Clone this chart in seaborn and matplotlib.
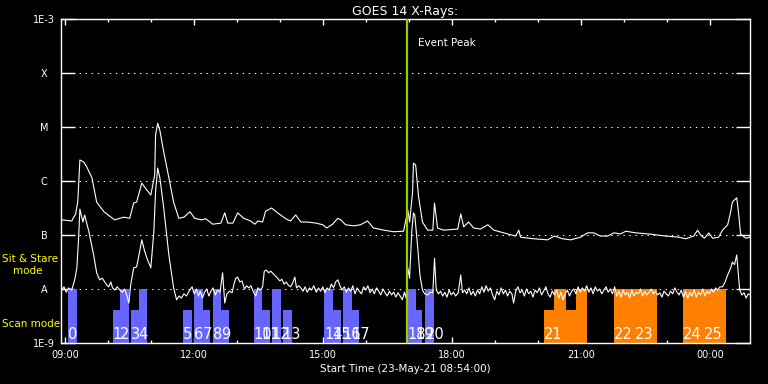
import matplotlib
matplotlib.use("Agg")
import matplotlib.pyplot as plt
import matplotlib.dates as mdates
import matplotlib.ticker as mticker
import numpy as np
import pandas as pd
import seaborn as sns

day = pd.Timestamp("2021-05-23")

# GOES long channel (1-8 A), hours UT, log10 flux
long_h = [8.92, 9.15, 9.24, 9.29, 9.34, 9.43, 9.50, 9.62, 9.73, 9.90, 10.03, 10.15, 10.36, 10.50,
          10.59, 10.66, 10.78, 10.90, 10.99, 11.08, 11.10, 11.15, 11.20, 11.29, 11.41, 11.52, 11.64,
          11.76, 11.90, 12.01, 12.17, 12.27, 12.43, 12.62, 12.71, 12.78, 12.90, 13.01, 13.15, 13.31,
          13.41, 13.48, 13.59, 13.66, 13.80, 13.94, 14.13, 14.24, 14.36, 14.48, 14.64, 14.83, 14.99,
          15.08, 15.22, 15.34, 15.41, 15.52, 15.71, 15.87, 16.03, 16.17, 16.41, 16.64, 16.87, 16.97,
          17.01, 17.08, 17.10, 17.15, 17.22, 17.31, 17.43, 17.55, 17.59, 17.66, 17.80, 18.13, 18.20,
          18.27, 18.38, 18.50, 18.66, 18.83, 18.97, 19.20, 19.48, 19.55, 19.59, 19.90, 20.22, 20.38,
          20.57, 20.76, 20.99, 21.15, 21.29, 21.45, 21.62, 21.76, 21.92, 22.04, 22.27, 22.57, 22.97,
          23.27, 23.43, 23.62, 23.71, 23.78, 23.87, 23.97, 24.06, 24.20, 24.29, 24.41, 24.48, 24.52,
          24.62, 24.66, 24.71, 24.83, 24.94]
long_logf = [-6.72, -6.74, -6.61, -6.39, -5.61, -5.65, -5.74, -5.94, -6.39, -6.57, -6.65, -6.72, -6.67, -6.69,
             -6.41, -6.39, -6.04, -6.17, -6.26, -5.89, -5.15, -4.93, -5.06, -5.46, -5.94, -6.39, -6.69,
             -6.67, -6.57, -6.69, -6.72, -6.70, -6.80, -6.78, -6.59, -6.78, -6.78, -6.59, -6.69, -6.74,
             -6.80, -6.74, -6.76, -6.56, -6.50, -6.59, -6.70, -6.74, -6.63, -6.76, -6.76, -6.78, -6.81,
             -6.87, -6.80, -6.69, -6.72, -6.81, -6.83, -6.81, -6.74, -6.87, -6.91, -6.94, -6.93, -6.54,
             -6.76, -6.20, -5.67, -5.70, -6.30, -6.76, -6.91, -6.91, -6.41, -6.87, -6.91, -6.89, -6.61,
             -6.85, -6.76, -6.87, -6.89, -6.81, -6.91, -6.96, -7.02, -6.91, -7.04, -7.07, -7.09, -7.02,
             -7.07, -7.09, -7.04, -6.96, -6.96, -7.02, -7.02, -6.96, -6.98, -6.93, -6.96, -6.98, -7.02,
             -7.04, -7.07, -7.02, -6.91, -7.00, -7.06, -6.96, -7.06, -7.04, -6.91, -6.81, -6.57, -6.39,
             -6.31, -6.57, -6.98, -7.06, -7.04]

# GOES short channel (0.5-4 A)
short_h = [8.92, 8.97, 9.02, 9.08, 9.15, 9.22, 9.27, 9.31, 9.34, 9.41, 9.45, 9.55, 9.66, 9.73, 9.80,
           9.86, 9.92, 9.97, 10.01, 10.06, 10.10, 10.15, 10.21, 10.27, 10.33, 10.38, 10.43, 10.48,
           10.52, 10.59, 10.66, 10.72, 10.78, 10.84, 10.90, 10.99, 11.06, 11.10, 11.15, 11.20, 11.29,
           11.41, 11.52, 11.59, 11.65, 11.70, 11.76, 11.82, 11.88, 11.95, 12.00, 12.05, 12.10, 12.14,
           12.19, 12.24, 12.29, 12.34, 12.39, 12.44, 12.49, 12.54, 12.60, 12.66, 12.71, 12.76, 12.82,
           12.88, 12.93, 12.97, 13.01, 13.06, 13.11, 13.17, 13.22, 13.27, 13.32, 13.38, 13.43, 13.48,
           13.54, 13.59, 13.63, 13.68, 13.73, 13.78, 13.84, 13.89, 13.94, 13.99, 14.04, 14.09, 14.14,
           14.19, 14.24, 14.29, 14.34, 14.38, 14.43, 14.48, 14.53, 14.58, 14.63, 14.68, 14.73, 14.78,
           14.84, 14.89, 14.94, 14.99, 15.04, 15.09, 15.14, 15.19, 15.24, 15.29, 15.34, 15.39, 15.44,
           15.49, 15.54, 15.59, 15.64, 15.69, 15.74, 15.79, 15.84, 15.89, 15.94, 15.99, 16.04, 16.09,
           16.14, 16.19, 16.24, 16.29, 16.34, 16.39, 16.44, 16.49, 16.54, 16.59, 16.64, 16.69, 16.74,
           16.79, 16.84, 16.89, 16.93, 16.97, 17.01, 17.06, 17.10, 17.13, 17.20, 17.25, 17.31, 17.36,
           17.43, 17.49, 17.55, 17.59, 17.63, 17.68, 17.73, 17.78, 17.83, 17.88, 17.93, 17.98, 18.03,
           18.08, 18.14, 18.20, 18.24, 18.29, 18.34, 18.39, 18.44, 18.49, 18.54, 18.59, 18.64, 18.69,
           18.74, 18.79, 18.84, 18.89, 18.94, 18.99, 19.04, 19.09, 19.14, 19.19, 19.24, 19.29, 19.34,
           19.39, 19.43, 19.48, 19.53, 19.58, 19.63, 19.68, 19.73, 19.78, 19.83, 19.88, 19.93, 19.98,
           20.03, 20.08, 20.13, 20.18, 20.23, 20.28, 20.33, 20.38, 20.43, 20.48, 20.53, 20.58, 20.63,
           20.68, 20.73, 20.78, 20.83, 20.88, 20.93, 20.98, 21.03, 21.08, 21.13, 21.18, 21.23, 21.28,
           21.33, 21.38, 21.43, 21.48, 21.53, 21.58, 21.63, 21.68, 21.73, 21.78, 21.83, 21.88, 21.93,
           21.98, 22.03, 22.08, 22.13, 22.18, 22.23, 22.28, 22.33, 22.38, 22.43, 22.48, 22.53, 22.58,
           22.63, 22.68, 22.73, 22.78, 22.83, 22.88, 22.93, 22.98, 23.03, 23.08, 23.13, 23.18, 23.23,
           23.28, 23.33, 23.38, 23.43, 23.48, 23.53, 23.58, 23.63, 23.68, 23.73, 23.78, 23.83, 23.88,
           23.93, 23.98, 24.03, 24.08, 24.13, 24.18, 24.23, 24.29, 24.35, 24.41, 24.48, 24.52, 24.57,
           24.62, 24.66, 24.69, 24.74, 24.79, 24.84, 24.89, 24.94]
short_logf = [-8.02, -7.96, -8.06, -7.98, -8.02, -7.83, -7.61, -7.06, -6.52, -6.76, -6.63, -6.94, -7.37, -7.70, -7.83,
              -7.80, -7.87, -7.93, -7.96, -7.87, -7.98, -8.02, -7.96, -8.02, -8.06, -8.00, -8.11, -8.26,
              -7.93, -7.61, -7.59, -7.35, -7.09, -7.28, -7.43, -7.61, -6.94, -6.20, -5.76, -5.94, -6.50,
              -7.37, -7.98, -8.20, -8.13, -8.17, -8.09, -8.13, -8.04, -7.96, -8.09, -8.00, -8.13, -8.04,
              -8.17, -8.06, -8.00, -8.13, -8.04, -7.98, -8.11, -8.02, -8.06, -7.70, -8.26, -8.09, -8.04,
              -8.07, -7.89, -7.80, -7.78, -7.87, -7.85, -8.00, -7.94, -7.98, -7.94, -8.06, -8.13, -7.98,
              -8.02, -7.96, -7.67, -7.65, -7.70, -7.67, -7.72, -7.76, -7.80, -7.85, -7.82, -7.91, -7.87,
              -7.93, -7.96, -7.89, -7.78, -7.98, -7.94, -7.98, -8.04, -7.96, -8.06, -7.98, -8.02, -7.94,
              -8.06, -7.98, -8.04, -7.96, -8.07, -7.98, -8.02, -7.91, -7.98, -7.87, -7.83, -7.94, -8.02,
              -7.96, -8.06, -7.98, -8.04, -7.94, -8.09, -7.98, -8.04, -8.09, -7.96, -8.02, -7.94, -8.07,
              -8.00, -8.09, -7.98, -8.04, -8.11, -8.00, -8.07, -8.13, -8.04, -8.11, -8.06, -8.15, -8.07,
              -8.13, -8.20, -8.06, -8.17, -7.61, -7.80, -6.94, -6.59, -6.63, -7.24, -7.74, -8.02, -8.09,
              -8.11, -8.06, -8.07, -7.43, -8.02, -8.09, -8.04, -8.13, -8.06, -8.15, -8.02, -8.11, -8.06,
              -8.13, -8.07, -7.74, -8.07, -8.02, -8.09, -7.98, -8.11, -8.04, -8.13, -8.02, -8.09, -7.96,
              -8.06, -7.94, -8.04, -7.98, -8.11, -8.20, -8.04, -8.11, -7.98, -8.09, -8.02, -8.13, -8.04,
              -8.09, -8.26, -8.04, -7.96, -8.07, -8.02, -8.13, -8.00, -8.09, -8.04, -8.15, -8.02, -8.07,
              -7.98, -8.11, -8.04, -7.96, -8.09, -8.15, -8.04, -8.11, -8.02, -8.17, -8.06, -8.20, -8.09,
              -8.02, -8.13, -8.04, -8.00, -8.09, -7.96, -8.06, -7.98, -8.04, -7.94, -8.06, -7.98, -8.09,
              -7.96, -8.04, -8.00, -8.09, -8.02, -7.96, -8.06, -8.00, -8.09, -7.96, -8.13, -8.04, -8.15,
              -8.02, -8.11, -8.06, -8.17, -8.02, -8.13, -8.06, -8.09, -8.00, -8.13, -8.04, -8.11, -8.06,
              -8.00, -8.09, -8.04, -8.11, -8.07, -8.15, -8.04, -8.09, -8.13, -8.04, -8.09, -7.98, -8.06,
              -8.11, -8.02, -8.15, -8.04, -8.17, -8.06, -8.13, -8.02, -8.15, -8.06, -8.11, -8.00, -8.13,
              -8.04, -8.09, -8.00, -8.06, -7.98, -8.02, -7.96, -7.96, -7.87, -7.74, -7.61, -7.50, -7.55,
              -7.37, -7.74, -8.02, -8.11, -8.07, -8.17, -8.09, -8.11]

# observation intervals (hours UT)
blue_start = [9.06, 10.10, 10.27, 10.52, 10.71, 11.73, 11.99, 12.20, 12.43, 12.62, 13.38,
              13.57, 13.80, 14.06, 15.03, 15.22, 15.45, 15.66, 16.97, 17.15, 17.38]
blue_end = [9.27, 10.27, 10.48, 10.71, 10.90, 11.94, 12.20, 12.36, 12.62, 12.80, 13.57,
            13.76, 14.01, 14.27, 15.22, 15.41, 15.66, 15.83, 17.15, 17.31, 17.57]
blue_mode = ["stare", "scan"] * 10 + ["stare"]
blue_label = [str(i) for i in range(21)]

orange_start = [20.13, 20.36, 20.64, 20.87, 21.76, 23.36]
orange_end = [20.36, 20.64, 20.87, 21.13, 22.76, 24.36]
orange_mode = ["scan", "stare", "scan", "stare", "stare", "stare"]
orange_label_h = [20.13, 21.76, 22.25, 23.36, 23.85]
orange_label = ["21", "22", "23", "24", "25"]

event_h = 16.94
mode_top = {"stare": 1e-8, "scan": 4e-9}
floor = 1e-9

ytick_vals = [1e-9, 1e-8, 1e-7, 1e-6, 1e-5, 1e-4, 1e-3]
ytick_text = ["1E-9", "A", "B", "C", "M", "X", "1E-3"]


def to_dt(h):
    return day + pd.to_timedelta(np.asarray(h), unit="h")


sns.set_style("dark", {"axes.facecolor": "black", "figure.facecolor": "black",
                       "axes.edgecolor": "white", "text.color": "white",
                       "xtick.color": "white", "ytick.color": "white",
                       "axes.labelcolor": "white", "axes.grid": False})
plt.rcParams["font.family"] = ["DejaVu Sans"]

fig = plt.figure(figsize=(7.68, 3.84), dpi=100)
ax = fig.add_axes([0.0794, 0.1068, 0.8972, 0.8437])

goes = pd.concat([
    pd.DataFrame({"time": to_dt(long_h), "flux": 10 ** np.array(long_logf), "chan": "long"}),
    pd.DataFrame({"time": to_dt(short_h), "flux": 10 ** np.array(short_logf), "chan": "short"}),
])
sns.lineplot(data=goes, x="time", y="flux", units="chan", estimator=None, sort=False,
             color="white", lw=0.8, ax=ax, zorder=3)
ax.set_yscale("log")

for starts, ends, modes, col in [(blue_start, blue_end, blue_mode, "#6666ff"),
                                 (orange_start, orange_end, orange_mode, "#ff8000")]:
    x0 = mdates.date2num(to_dt(starts))
    w = (np.array(ends) - np.array(starts)) / 24.0
    tops = np.array([mode_top[m] for m in modes])
    ax.bar(x0, tops - floor, width=w, bottom=floor, align="edge", color=col, lw=0, zorder=2)

for h, lab in list(zip(blue_start, blue_label)) + list(zip(orange_label_h, orange_label)):
    ax.text(mdates.date2num(to_dt(h)), 1.19e-9, lab, color="white", fontsize=10.5,
            ha="left", va="baseline", zorder=5)

evt = mdates.date2num(to_dt(event_h))
ax.axvline(evt, color="#99cc00", lw=1.6, zorder=4)
ax.annotate("Event Peak", xy=(evt, 10 ** -3.44), xytext=(8, 0), textcoords="offset points",
            va="center", ha="left", fontsize=7.5, color="white")

ax.set_xlim(mdates.date2num(to_dt(8.9)), mdates.date2num(to_dt(24.93)))
ax.set_ylim(1e-9, 1e-3)
ax.set_yticks(ytick_vals)
ax.set_yticklabels(ytick_text)
ax.yaxis.set_minor_locator(mticker.NullLocator())
for t in ax.get_yticklabels():
    t.set_ha("center")
ax.xaxis.set_major_locator(mdates.HourLocator(byhour=range(0, 24, 3)))
ax.xaxis.set_minor_locator(mdates.HourLocator())
ax.xaxis.set_major_formatter(mdates.DateFormatter("%H:%M"))

ax.tick_params(axis="y", which="major", direction="in", length=10, width=1, left=True,
               right=True, labelsize=7, pad=12)
ax.tick_params(axis="x", which="major", direction="in", length=4.5, width=1, top=True,
               bottom=True, labelsize=7, pad=5)
ax.tick_params(axis="x", which="minor", direction="in", length=2.4, width=1, top=True,
               bottom=True)
ax.yaxis.grid(True, color="white", linestyle=(0, (1.3, 4.5)), lw=0.75)
ax.xaxis.grid(False)
for s in ax.spines.values():
    s.set_visible(True)
    s.set_color("white")
    s.set_linewidth(1)

ax.set_title("GOES 14 X-Rays:", fontsize=9, pad=3, color="white")
ax.set_xlabel("Start Time (23-May-21 08:54:00)", fontsize=7.5, labelpad=3)
ax.set_ylabel("")

fig.text(2 / 768, 1 - 259 / 384, "Sit & Stare", color="#ffff00", fontsize=7.5, va="center", ha="left")
fig.text(13 / 768, 1 - 271 / 384, "mode", color="#ffff00", fontsize=7.5, va="center", ha="left")
fig.text(2 / 768, 1 - 324 / 384, "Scan mode", color="#ffff00", fontsize=7.5, va="center", ha="left")

fig.savefig("out.png", dpi=100, facecolor="black")
